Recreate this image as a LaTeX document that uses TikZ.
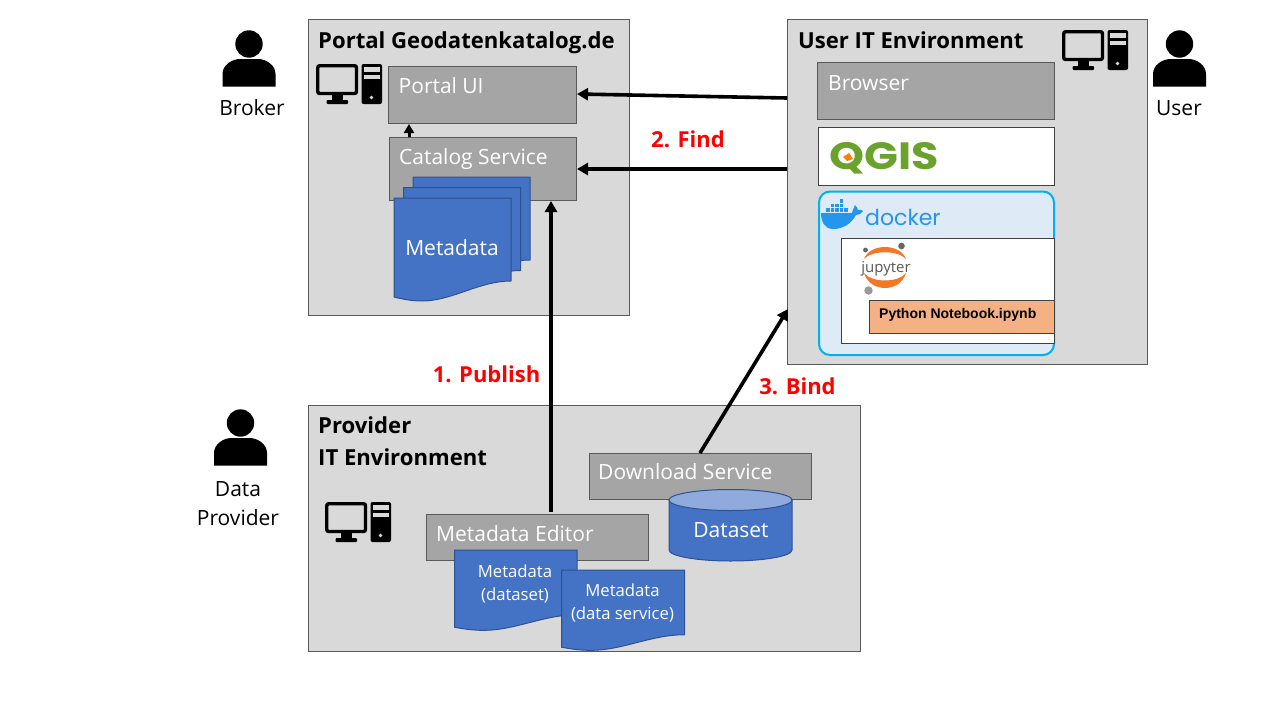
\documentclass[tikz,border=0pt]{standalone}
\usepackage{graphicx}
\usepackage{fontspec}
\setmainfont{Open Sans}
\newfontfamily\arialf{Liberation Sans}
\newfontfamily\logof{Poppins}
\usetikzlibrary{arrows.meta}
\definecolor{envfill}{HTML}{D9D9D9}
\definecolor{envline}{HTML}{595959}
\definecolor{svcfill}{HTML}{A5A5A5}
\definecolor{docfill}{HTML}{4472C4}
\definecolor{docline}{HTML}{2F528F}
\definecolor{cyltop}{HTML}{8FAADC}
\definecolor{dockfill}{HTML}{DEEAF6}
\definecolor{dockline}{HTML}{00B0F0}
\definecolor{orangebox}{HTML}{F4B183}
\definecolor{dockblue}{HTML}{2496ED}
\definecolor{qgisgreen}{HTML}{6BA22D}
\definecolor{jupor}{HTML}{F37726}
\tikzset{
  env/.style={draw=envline,fill=envfill,line width=1pt,inner sep=0pt},
  svc/.style={draw=envline,fill=svcfill,line width=1pt,inner sep=0pt},
  whitebox/.style={draw=black!75,fill=white,line width=1pt,inner sep=0pt},
  title/.style={anchor=west,inner sep=0pt,text height=16pt,text depth=5pt,font=\fontsize{22.1}{27}\selectfont\bfseries},
  svclabel/.style={anchor=west,inner sep=0pt,text=white,text height=15pt,text depth=4pt,font=\fontsize{21}{24}\selectfont},
  doclabel/.style={inner sep=0pt,text=white,align=center,font=\fontsize{16.7}{23}\selectfont},
  actor/.style={inner sep=0pt,align=center,font=\fontsize{21}{29}\selectfont},
  step label/.style={inner sep=0pt,text=red,font=\fontsize{22}{26}\selectfont\bfseries},
  link/.style={-{Triangle[length=11pt,width=12pt]},line width=3.6pt,black},
  docbody/.style={draw=docline,fill=docfill,line width=1pt},
  pics/person/.style={code={
    \fill[black] (0,0) circle[radius=13.7pt];
    \fill[black] (-26.5,42.5) -- (-26.5,30) .. controls (-26.5,21) and (-17,15) .. (-9,15)
      -- (9,15) .. controls (17,15) and (26.5,21) .. (26.5,30) -- (26.5,42.5) -- cycle;
  }},
  pics/computer/.style={code={
    \draw[black,line width=3.4pt,rounded corners=2pt] (1.7,1.7) rectangle (40.5,29.5);
    \fill[black] (15.5,31) rectangle (27,36);
    \fill[black,rounded corners=1pt] (10.5,36) rectangle (32,40);
    \fill[black,rounded corners=2pt] (45.5,0) rectangle (66,40);
    \fill[envfill] (48,3.3) rectangle (63.5,8);
    \fill[envfill] (48,10.7) rectangle (63.5,14.7);
    \fill[envfill] (55.5,33.5) circle[radius=1.8pt];
  }}
}
% name, style, x1, y1, x2, y2
\newcommand\pbox[6]{\node[#2,anchor=north west,minimum width={(#5-#3-1)*1pt},minimum height={(#6-#4-1)*1pt}] (#1) at (#3,#4) {};}
% x, y, width, yscale
\newcommand\docpage[4]{\begin{scope}[shift={(#1,#2)},xscale=#3/117,yscale=#4]
  \path[docbody] (0,0) -- (117,0) -- (117,83)
      .. controls (85,83) and (58,103) .. (28,103)
      .. controls (17,103) and (8,101) .. (0,99) -- cycle;
\end{scope}}
\begin{document}
\begin{tikzpicture}[x=1pt,y=-1pt]
\useasboundingbox (0,0) rectangle (1280,720);
\fill[white] (0,0) rectangle (1280,720);

% --- Portal ---
\pbox{portal}{env}{308}{19}{630}{316}
\node[title] (portaltitle) at (318,42.5) {Portal Geodatenkatalog.de};
\pbox{portalui}{svc}{388}{66}{577}{124}
\node[svclabel] (portaluitext) at (398.5,87.5) {Portal UI};
\pbox{catalog}{svc}{389}{137}{577}{201}
\node[svclabel] (catalogtext) at (399,158.5) {Catalog Service};
\docpage{413}{177}{117}{1}
\docpage{403.5}{187.5}{117}{1}
\docpage{394}{198}{117}{1}
\node[doclabel,font=\fontsize{21}{24}\selectfont] (metadata) at (452,248) {Metadata};
\pic at (316,64) {computer};

% --- User ---
\pbox{userenv}{env}{787}{19}{1148}{365}
\node[title] (usertitle) at (798,42.5) {User IT Environment};
\pbox{browser}{svc}{817}{62}{1055}{120}
\node[svclabel] (browsertext) at (828,84.5) {Browser};
\pbox{qgis}{whitebox}{818}{127}{1055}{186}
\node[anchor=west,inner sep=0pt,text=qgisgreen,font=\logof\fontsize{38}{40}\selectfont\bfseries] (qgistext) at (829.5,158) {\scalebox{1.17}[1]{QGIS}};
\fill[orange] (843,157) -- (849,153) -- (853,159) -- (847,161) -- cycle;
\node[draw=dockline,fill=dockfill,line width=2pt,rounded corners=11pt,inner sep=0pt,anchor=north west,minimum width=235pt,minimum height=163.5pt] (docker) at (818,190.5) {};
\node[anchor=west,inner sep=0pt,text=dockblue,font=\logof\fontsize{22}{28}\selectfont] (dockertext) at (865,217) {docker};
% whale
\fill[dockblue] (821,213) -- (852,213) .. controls (853,208) and (855,207) .. (855,205)
  .. controls (857,207) and (858,209) .. (858,210) .. controls (860,209) and (862,210) .. (863,211)
  .. controls (861,214) and (858,215) .. (856,215) .. controls (851,224) and (843,229) .. (833,229)
  .. controls (825,229) and (821,222) .. (821,213) -- cycle;
\foreach \cx/\cy in {826/208,830.5/208,835/208,839.5/208,844/208,830.5/203.5,835/203.5,839.5/203.5,839.5/199}
  \fill[dockblue] (\cx,\cy) rectangle ++(3.7,3.7);
\pbox{jupbox}{whitebox}{841}{238}{1055}{344}
\fill[jupor] (864,259) .. controls (870,243) and (900,243) .. (906,259) .. controls (898,250) and (872,250) .. (864,259) -- cycle;
\fill[jupor] (864,273) .. controls (870,293) and (900,293) .. (906,273) .. controls (898,283) and (872,283) .. (864,273) -- cycle;
\node[inner sep=0pt,text=black!65,font=\fontsize{15}{18}\selectfont] (juptext) at (886,268.5) {jupyter};
\fill[black!60] (865.5,250) circle[radius=2.4pt];
\fill[black!60] (901.5,246) circle[radius=3.3pt];
\fill[black!40] (868.5,290.5) circle[radius=4.2pt];
\pbox{notebook}{whitebox,fill=orangebox}{869}{300}{1055}{334}
\node[anchor=west,inner sep=0pt,font=\arialf\fontsize{14}{16}\selectfont\bfseries] (notebooktext) at (879,315) {Python Notebook.ipynb};
\pic at (1062,30) {computer};

% --- Provider ---
\pbox{provider}{env}{308}{405}{861}{652}
\node[anchor=west,inner sep=0pt,align=left,font=\fontsize{22.1}{32}\selectfont\bfseries] (providertitle) at (318,441.5) {Provider\\IT Environment};
\pic at (325,502) {computer};
\pbox{download}{svc}{589}{453}{812}{500}
\node[svclabel] (downloadtext) at (598,474) {Download Service};
\pbox{editor}{svc}{426}{514}{649}{561}
\node[svclabel] (editortext) at (436,536) {Metadata Editor};
% dataset cylinder
\path[docbody] (669,500) -- (669,550) arc[start angle=180,end angle=360,x radius=61.5pt,y radius=11pt] -- (792,500) -- cycle;
\path[draw=docline,fill=cyltop,line width=1pt] (730.5,500) ellipse[x radius=61.5pt,y radius=10.5pt];
\node[doclabel,font=\fontsize{21}{24}\selectfont] (dataset) at (731,530) {Dataset};
% documents
\docpage{454.5}{550}{122.5}{0.78}
\node[doclabel] (meta1) at (515,583.5) {Metadata\\(dataset)};
\docpage{561.5}{570}{123}{0.78}
\node[doclabel] (meta2) at (622.5,602.5) {Metadata\\(data service)};

% --- Actors ---
\pic at (249,44) {person};
\node[actor] (broker) at (252,108) {Broker};
\pic at (1179.5,44) {person};
\node[actor] (user) at (1179,108) {User};
\pic at (240.5,423) {person};
\node[actor] (dataprovider) at (238,503.5) {Data\\Provider};

% --- Connectors ---
\coordinate (userA) at (userenv.west |- 0,98);
\coordinate (uiA) at (portalui.east |- 0,94);
\coordinate (userB) at (userenv.west |- 0,169);
\coordinate (catB) at (catalog.east |- 0,169);
\coordinate (catTop) at (409,137);
\coordinate (uiBottom) at (409,124);
\coordinate (edTop) at (551,512);
\coordinate (catBottom) at (551,201);
\coordinate (dlTop) at (700,453);
\coordinate (userC) at (788,309);
\draw[link] (userA) -- (uiA);
\draw[link] (userB) -- (catB);
\draw[link,-{Triangle[length=9pt,width=10pt]},line width=3pt] (catTop) -- (uiBottom);
\draw[link] (edTop) -- (catBottom);
\draw[link] (dlTop) -- (userC);
\node[step label] (find) at (688,139) {2. Find};
\node[step label] (publish) at (486.5,374) {1. Publish};
\node[step label] (bind) at (797.5,386) {3. Bind};
\end{tikzpicture}
\end{document}
